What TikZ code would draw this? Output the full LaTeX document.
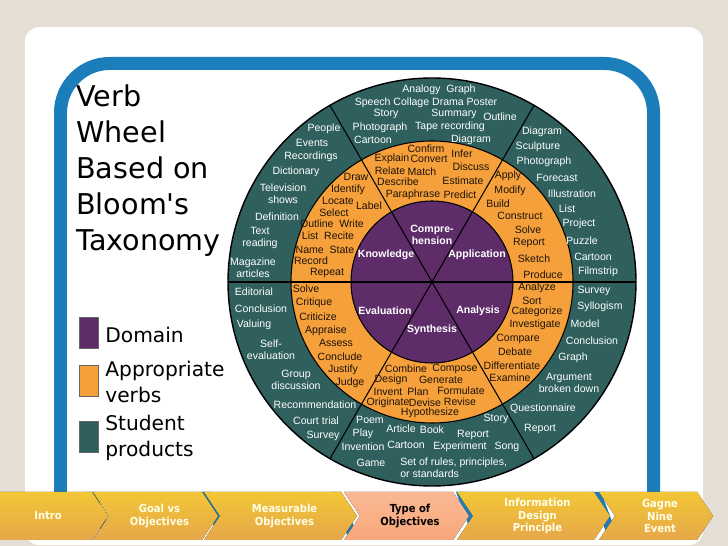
\documentclass[tikz,border=0pt]{standalone}
\usepackage{fontspec}
\setmainfont{Liberation Sans}
\newfontfamily\titlefont{DejaVu Sans}
\newfontfamily\navfont{DejaVu Sans Condensed}
\usetikzlibrary{calc}
\definecolor{bgcol}{HTML}{E4DED5}
\definecolor{framecol}{HTML}{1B7DBA}
\definecolor{prodcol}{HTML}{2F605E}
\definecolor{verbcol}{HTML}{F5A03A}
\definecolor{domcol}{HTML}{5D2C69}
\definecolor{navcol}{HTML}{EDAE4C}
\definecolor{navhi}{HTML}{F8A77A}
\tikzset{
    prod/.style={text=white, font=\fontsize{6}{6.6}\selectfont, inner sep=0pt, align=center},
    verb/.style={text=black!85!brown, font=\fontsize{6}{6.6}\selectfont, inner sep=0pt, align=center},
    dom/.style={text=white, font=\bfseries\fontsize{6}{6.6}\selectfont, inner sep=0pt, align=center},
    legbox/.style={draw=black!60, minimum width=11pt, minimum height=18pt, inner sep=0pt},
    legtext/.style={font=\titlefont\fontsize{11.5}{14.5}\selectfont, align=left, anchor=west, inner sep=0pt},
    navtext/.style={font=\navfont\bfseries\fontsize{6.3}{7}\selectfont, align=center, text=white!90!yellow}
}
\begin{document}
\begin{tikzpicture}[x=0.02cm, y=-0.02cm]
    \fill[bgcol] (0,0) rectangle (728,546);
    \useasboundingbox (0,0) rectangle (728,546);
    \fill[white, rounded corners=8] (25,27) rectangle (703,545);
    \draw[framecol, line width=13*0.569pt, rounded corners=28] (60.5,530) -- (60.5,63.5) -- (653.5,63.5) -- (653.5,530);

    % title and legend
    \node[anchor=north west, align=left, inner sep=0pt, font=\titlefont\fontsize{16.3}{20.5}\selectfont] (title) at (76,84)
        {Verb\\Wheel\\Based on\\Bloom's\\Taxonomy};
    \node[legbox, fill=domcol] (ldom) at (89,333) {};
    \node[legbox, fill=verbcol] (lverb) at (89,381) {};
    \node[legbox, fill=prodcol] (lprod) at (89,437) {};
    \node[legtext] (tdom) at (105,335) {Domain};
    \node[legtext] (tverb) at (105,382) {Appropriate\\verbs};
    \node[legtext] (tprod) at (105,438) {Student\\products};

    % wheel
    \coordinate (c) at (432,282);
    \fill[prodcol] (c) circle (204);
    \fill[verbcol] (c) circle (141);
    \fill[domcol] (c) circle (81);
    \draw[black, line width=0.8pt] (c) circle (204);
    \draw[black, line width=0.6pt] (c) circle (141) (c) circle (81);
    \foreach \a in {0,60,120}
        \draw[black, line width=0.6pt] ($(c)+(\a:204)$) -- ($(c)+(\a+180:204)$);

    % domains
    \node[dom] (knowledge) at (386,255) {Knowledge};
    \node[dom] (comprehension) at (432,235) {Compre-\\hension};
    \node[dom] (application) at (477,255) {Application};
    \node[dom] (evaluation) at (385,311) {Evaluation};
    \node[dom] (synthesis) at (432,330) {Synthesis};
    \node[dom] (analysis) at (478,311) {Analysis};

    % verbs
    \foreach \t/\x/\y [count=\i] in {
        Draw/356/177, Identify/348/190, Locate/338/201, Label/369/206, Select/334/213,
        Outline\ \ Write/332/224, List\ \ Recite/328/236, Name\ \ State/325/250, Record/311/261, Repeat/327/273,
        Confirm/426/149, Explain/392/159, Convert/429/159, Infer/462/154, Relate/390/171, Match/422/172,
        Discuss/471/167, Describe/398/182, Estimate/463/181, Paraphrase/413/195, Predict/460/195,
        Apply/508/176, Modify/510/191, Build/498/204, Construct/520/216, Solve/528/230,
        Report/529/243, Sketch/534/259, Produce/543/275,
        Analyze/537/288, Sort/532/301, Categorize/537/312, Investigate/535/325, Compare/518/339,
        Debate/515/352, Differentiate/512/366, Examine/510/378,
        Combine/406/369, Compose/455/369, Design/391/380, Generate/441/380, Invent/388/392,
        Plan/418/392, Formulate/461/391, Originate/388/403, Devise/425/403, Revise/460/402, Hypothesize/430/413,
        Solve/306/289, Critique/314/303, Criticize/318/317, Appraise/326/331, Assess/336/343,
        Conclude/340/357, Justify/343/370, Judge/350/383}
        \node[verb] (v\i) at (\x,\y) {\t};

    % products
    \foreach \t/\x/\y [count=\i] in {
        Analogy\ \ Graph/439/90, Speech Collage Drama Poster/426/103, Story/386/114, Summary/454/114,
        Outline/500/117, Photograph/380/128, Tape recording/450/127, Cartoon/373/140, Diagram/471/140,
        People/324/129, Events/312/143, Recordings/311/157, Dictionary/296/172, Television\\shows/283/194,
        Definition/277/217, Text\\reading/260/238, Magazine\\articles/253/268,
        Diagram/542/132, Sculpture/538/147, Photograph/544/162, Forecast/557/178, Illustration/572/194,
        List/567/209, Project/579/224, Puzzle/582/241, Cartoon/593/257, Filmstrip/598/272,
        Survey/594/291, Syllogism/600/307, Model/585/324, Conclusion/592/341, Graph/573/358,
        Argument\\broken down/569/383, Questionnaire/543/409, Report/540/429,
        Editorial/254/292, Conclusion/261/309, Valuing/254/325, Self-\\evaluation/271/350,
        Group\\discussion/296/380, Recommendation/315/405, Court trial/316/421, Survey/323/436,
        Poem/370/420, Article/401/429, Book/432/430, Report/473/435, Story/496/419, Play/363/434,
        Invention/363/447, Cartoon/406/445, Experiment/460/447, Song/507/447, Game/371/463}
        \node[prod] (p\i) at (\x,\y) {\t};
    \node[prod, align=left, anchor=west] (rules) at (400,468) {Set of rules, principles,\\or standards};

    % navigation bar
    \foreach \x in {100,215,345,470,605}
        \fill[framecol] (\x-14,492) -- (\x-4,492) -- (\x+14,540) -- (\x+4,540) -- cycle;
    \foreach \l/\r/\t/\n in {-20/108/Intro/intro, 93/218/Goal vs\\Objectives/goal,
        204/357/Measurable\\Objectives/measurable, 457/610/Information\\Design\\Principle/info,
        599/713/Gagne\\Nine\\Event/gagne}
    {
        \fill[top color=navcol!70!yellow, bottom color=navcol!85!brown]
            (\l,492) -- (\r-16,492) -- (\r,516) -- (\r-16,540) -- (\l,540) -- (\l+16,516) -- cycle;
        \node[navtext] (\n) at ({(\l+\r)/2+4},516) {\t};
    }
    \fill[top color=navhi!80!white, bottom color=navhi] (344,492) -- (453,492) -- (469,516) -- (453,540) -- (344,540) -- (360,516) -- cycle;
    \node[navtext, text=black] (type) at (410,516) {Type of\\Objectives};
\end{tikzpicture}
\end{document}
